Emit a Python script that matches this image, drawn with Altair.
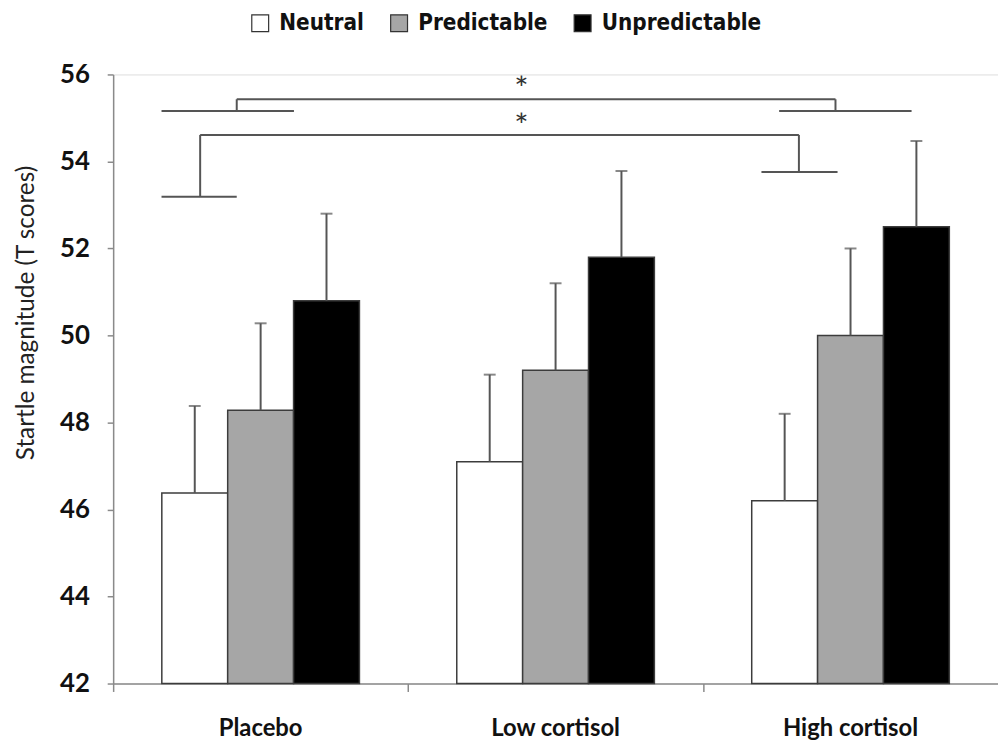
import altair as alt
import pandas as pd

# ---- data ----
groups = ["Placebo", "Low cortisol", "High cortisol"]
conditions = ["Neutral", "Predictable", "Unpredictable"]
neutral_means = [46.38, 47.1, 46.2]
predictable_means = [48.28, 49.2, 50.0]
unpredictable_means = [50.8, 51.8, 52.5]
neutral_err = [2.0, 2.0, 2.0]
predictable_err = [2.0, 2.0, 2.0]
unpredictable_err = [2.0, 1.98, 1.97]
y_ticks = [42, 44, 46, 48, 50, 52, 54, 56]

# significance brackets, in category units (0..3 across the x axis) and T scores
seg_u = [0.164, 0.419, 0.419, 2.449, 2.258, 0.164, 0.295, 0.295, 2.325, 2.198]
seg_u2 = [0.613, 0.419, 2.449, 2.449, 2.707, 0.419, 0.295, 2.325, 2.325, 2.456]
seg_v = [55.16, 55.16, 55.43, 55.43, 55.16, 53.19, 53.19, 54.61, 54.61, 53.76]
seg_v2 = [55.16, 55.43, 55.43, 55.16, 55.16, 53.19, 54.61, 54.61, 53.76, 53.76]
star_u = [1.384, 1.384]
star_v = [55.65, 54.8]
star_text = ["*", "*"]
boundary_ticks = [0, 1, 2]

rows = []
for cond, m, e in [("Neutral", neutral_means, neutral_err),
                   ("Predictable", predictable_means, predictable_err),
                   ("Unpredictable", unpredictable_means, unpredictable_err)]:
    for g, mv, ev in zip(groups, m, e):
        rows.append({"group": g, "condition": cond, "mean": mv, "upper": mv + ev})
df = pd.DataFrame(rows)
seg_df = pd.DataFrame({"u": seg_u, "u2": seg_u2, "v": seg_v, "v2": seg_v2})
star_df = pd.DataFrame({"u": star_u, "v": star_v, "t": star_text})

W, H = 892, 614
NARROW = "DejaVu Sans Condensed"
YTITLE = "Startle magnitude (T scores)"

yscale = alt.Scale(domain=[42, 56], nice=False, zero=False)
yaxis = alt.Axis(values=y_ticks, grid=False, tickSize=6, tickColor="#8a8a8a",
                 tickWidth=1.5, domainColor="#8a8a8a", domainWidth=1.5,
                 labelFont="Lato", labelFontWeight="bold", labelFontSize=26,
                 labelColor="#111", labelPadding=18,
                 title=YTITLE, titleFont="Lato",
                 titleFontWeight="normal", titleFontSize=24.5, titleColor="#222",
                 titleX=-87, titleY=240, titleAlign="center",
                 titleBaseline="middle")
xaxis = alt.Axis(title=None, ticks=False, tickSize=0, labelAngle=0,
                 labelFont="Lato", labelFontWeight="bold", labelFontSize=24,
                 labelColor="#111", labelBaseline="middle", labelPadding=45,
                 domainColor="#8a8a8a", domainWidth=1.5)
uaxis = alt.Axis(orient="bottom", values=boundary_ticks, labels=False, domain=False,
                 grid=False, tickSize=8, tickColor="#8a8a8a", tickWidth=1.5,
                 title=None)

xband = alt.X("group:N", sort=groups,
              scale=alt.Scale(paddingInner=0.33, paddingOuter=0.165), axis=xaxis)
xoff = alt.XOffset("condition:N", sort=conditions,
                   scale=alt.Scale(paddingInner=0, paddingOuter=0))

bars = alt.Chart(df).mark_bar(stroke="#3c3c3c", strokeWidth=1.5).encode(
    x=xband,
    xOffset=xoff,
    y=alt.Y("mean:Q", scale=yscale, axis=yaxis),
    y2=alt.datum(42),
    fill=alt.Fill("condition:N", sort=conditions,
                  scale=alt.Scale(domain=conditions, range=["#ffffff", "#a6a6a6", "#000000"]),
                  legend=alt.Legend(title=None, orient="none", direction="horizontal",
                                    legendX=137, legendY=-63,
                                    labelFont=NARROW, labelFontWeight="bold",
                                    labelFontSize=22.5, labelColor="#111", labelLimit=400,
                                    symbolType="square", symbolSize=289,
                                    symbolStrokeColor="#333", symbolStrokeWidth=1.2,
                                    labelOffset=8, columnPadding=24)),
)

err = alt.Chart(df).mark_rule(color="#555", strokeWidth=2).encode(
    x=xband, xOffset=xoff,
    y=alt.Y("mean:Q", scale=yscale, axis=yaxis), y2="upper:Q")
caps = alt.Chart(df).mark_tick(color="#555", thickness=2, size=12).encode(
    x=xband, xOffset=xoff,
    y=alt.Y("upper:Q", scale=yscale, axis=yaxis))

main = alt.layer(bars, err, caps)

uscale = alt.Scale(domain=[0, 3], nice=False, zero=False)
segs = alt.Chart(seg_df).mark_rule(color="#555", strokeWidth=2).encode(
    x=alt.X("u:Q", scale=uscale, axis=uaxis),
    x2="u2:Q",
    y=alt.Y("v:Q", scale=yscale, axis=yaxis),
    y2="v2:Q",
)
stars = alt.Chart(star_df).mark_text(font="Lato", fontSize=34, color="#333",
                                      baseline="middle").encode(
    x=alt.X("u:Q", scale=uscale, axis=uaxis),
    y=alt.Y("v:Q", scale=yscale, axis=yaxis),
    text="t:N")
annot = alt.layer(segs, stars)

chart = alt.layer(main, annot).resolve_scale(x="independent").properties(
    width=W, height=H,
    autosize=alt.AutoSizeParams(type="none"),
    padding={"left": 106, "top": 64, "right": 0, "bottom": 62},
).configure_view(stroke=None).configure(background="white")

chart.save("out.html", embed_options={"renderer": "svg", "actions": False})
